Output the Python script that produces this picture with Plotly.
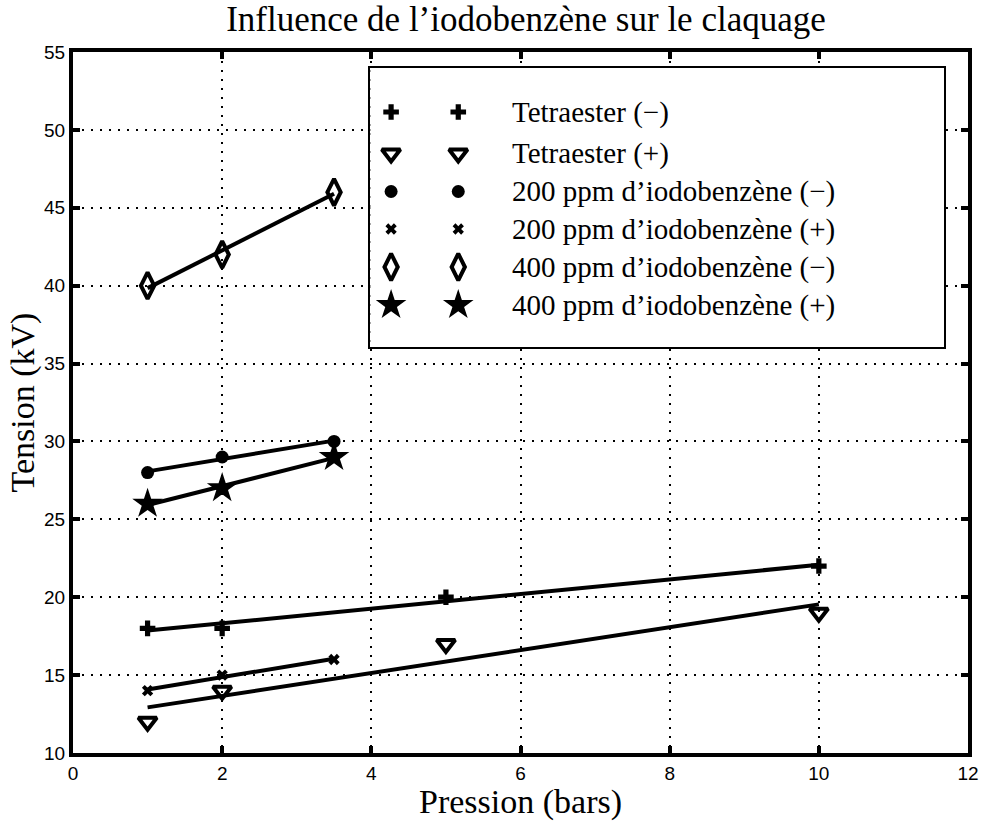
import numpy as np
import plotly.graph_objects as go

# Breakdown voltage (kV) versus pressure (bars) for each liquid / polarity
p_tetra = [1, 2, 5, 10]
v_tetra_neg = [18, 18, 20, 22]
v_tetra_pos = [12, 14, 17, 19]

p_iodo = [1, 2, 3.5]
v_200_neg = [28, 29, 30]
v_200_pos = [14, 15, 16]
v_400_neg = [40, 42, 46]
v_400_pos = [26, 27, 29]

series_names = [
    "Tetraester (\u2212)",
    "Tetraester (+)",
    "200 ppm d\u2019iodobenz\u00e8ne (\u2212)",
    "200 ppm d\u2019iodobenz\u00e8ne (+)",
    "400 ppm d\u2019iodobenz\u00e8ne (\u2212)",
    "400 ppm d\u2019iodobenz\u00e8ne (+)",
]
series_x = [p_tetra, p_tetra, p_iodo, p_iodo, p_iodo, p_iodo]
series_y = [v_tetra_neg, v_tetra_pos, v_200_neg, v_200_pos, v_400_neg, v_400_pos]

# marker style per series: (symbol, size, outline width)
marker_styles = [
    ("cross", 13, 0),
    ("triangle-down-open", 16, 4),
    ("circle", 13, 0),
    ("x", 10, 0),
    ("diamond-tall-open", 19, 4),
    ("star", 23, 0),
]

# figure / plot-area geometry in pixels
W, H = 988, 821
L, R, T, B = 73, 9, 52, 68
PW, PH = W - L - R, H - T - B

# legend box edges and row layout, in pixels
LEG_X0, LEG_X1, LEG_Y0, LEG_Y1 = 374, 955, 68, 347
row_py = [112, 153.5, 191.5, 229, 267, 305]
col_px = [395, 463]
text_px = 515


def px_to_paper_x(px):
    return (px - L) / PW


def px_to_paper_y(py):
    return 1 - (py - T) / PH


fig = go.Figure()

# least-squares lines drawn across each series' pressure range
for xs, ys in zip(series_x, series_y):
    xa = np.array(xs, dtype=float)
    slope, icpt = np.polyfit(xa, np.array(ys, dtype=float), 1)
    xf = np.array([xa.min(), xa.max()])
    fig.add_trace(go.Scatter(
        x=xf, y=slope * xf + icpt, mode="lines",
        line=dict(color="black", width=4), showlegend=False, hoverinfo="skip",
    ))

# measured points
for name, xs, ys, (sym, size, lw) in zip(series_names, series_x, series_y, marker_styles):
    fig.add_trace(go.Scatter(
        x=xs, y=ys, mode="markers", name=name, showlegend=False,
        marker=dict(symbol=sym, size=size, color="black",
                    line=dict(color="black", width=lw)),
    ))

# boxed legend on its own small subplot (axes in pixel units):
# two sample markers per row followed by the label
for name, (sym, size, lw), py in zip(series_names, marker_styles, row_py):
    fig.add_trace(go.Scatter(
        x=col_px, y=[py, py], mode="markers",
        xaxis="x2", yaxis="y2", showlegend=False, hoverinfo="skip",
        marker=dict(symbol=sym, size=size, color="black",
                    line=dict(color="black", width=lw)),
    ))
    fig.add_annotation(
        x=text_px, y=py, xref="x2", yref="y2",
        text=name, showarrow=False, xanchor="left", yanchor="middle",
        font=dict(family="Liberation Serif", size=29, color="black"),
    )

axis_common = dict(
    showline=True, linecolor="black", linewidth=4, mirror="ticks",
    ticks="inside", ticklen=7, tickwidth=4, tickcolor="black",
    showgrid=True, gridcolor="black", gridwidth=2, griddash="2px,7px",
    zeroline=False,
    tickfont=dict(family="Liberation Sans", size=19, color="black"),
)

legend_axis = dict(
    showline=True, linecolor="black", linewidth=1.5, mirror=True,
    showgrid=False, zeroline=False, showticklabels=False, ticks="",
    fixedrange=True,
)

fig.update_layout(
    width=W, height=H,
    margin=dict(l=L, r=R, t=T, b=B),
    paper_bgcolor="white", plot_bgcolor="white",
    title=dict(
        text="Influence de l\u2019iodobenz\u00e8ne sur le claquage",
        x=(L + PW / 2) / W, xanchor="center",
        y=1 - 19 / H, yanchor="middle", yref="container",
        font=dict(family="Liberation Serif", size=35, color="black"),
    ),
    xaxis=dict(
        range=[0, 12], dtick=2, tick0=0,
        title=dict(text="Pression (bars)", standoff=2,
                   font=dict(family="Liberation Serif", size=34, color="black")),
        **axis_common,
    ),
    yaxis=dict(
        range=[10, 55], dtick=5, tick0=10,
        title=dict(text="Tension (kV)", standoff=0,
                   font=dict(family="Liberation Serif", size=34, color="black")),
        **axis_common,
    ),
    xaxis2=dict(
        domain=[px_to_paper_x(LEG_X0), px_to_paper_x(LEG_X1)],
        range=[LEG_X0, LEG_X1], anchor="y2", **legend_axis,
    ),
    yaxis2=dict(
        domain=[px_to_paper_y(LEG_Y1), px_to_paper_y(LEG_Y0)],
        range=[LEG_Y1, LEG_Y0], anchor="x2", **legend_axis,
    ),
    showlegend=False,
)

fig.write_html("out.html")
